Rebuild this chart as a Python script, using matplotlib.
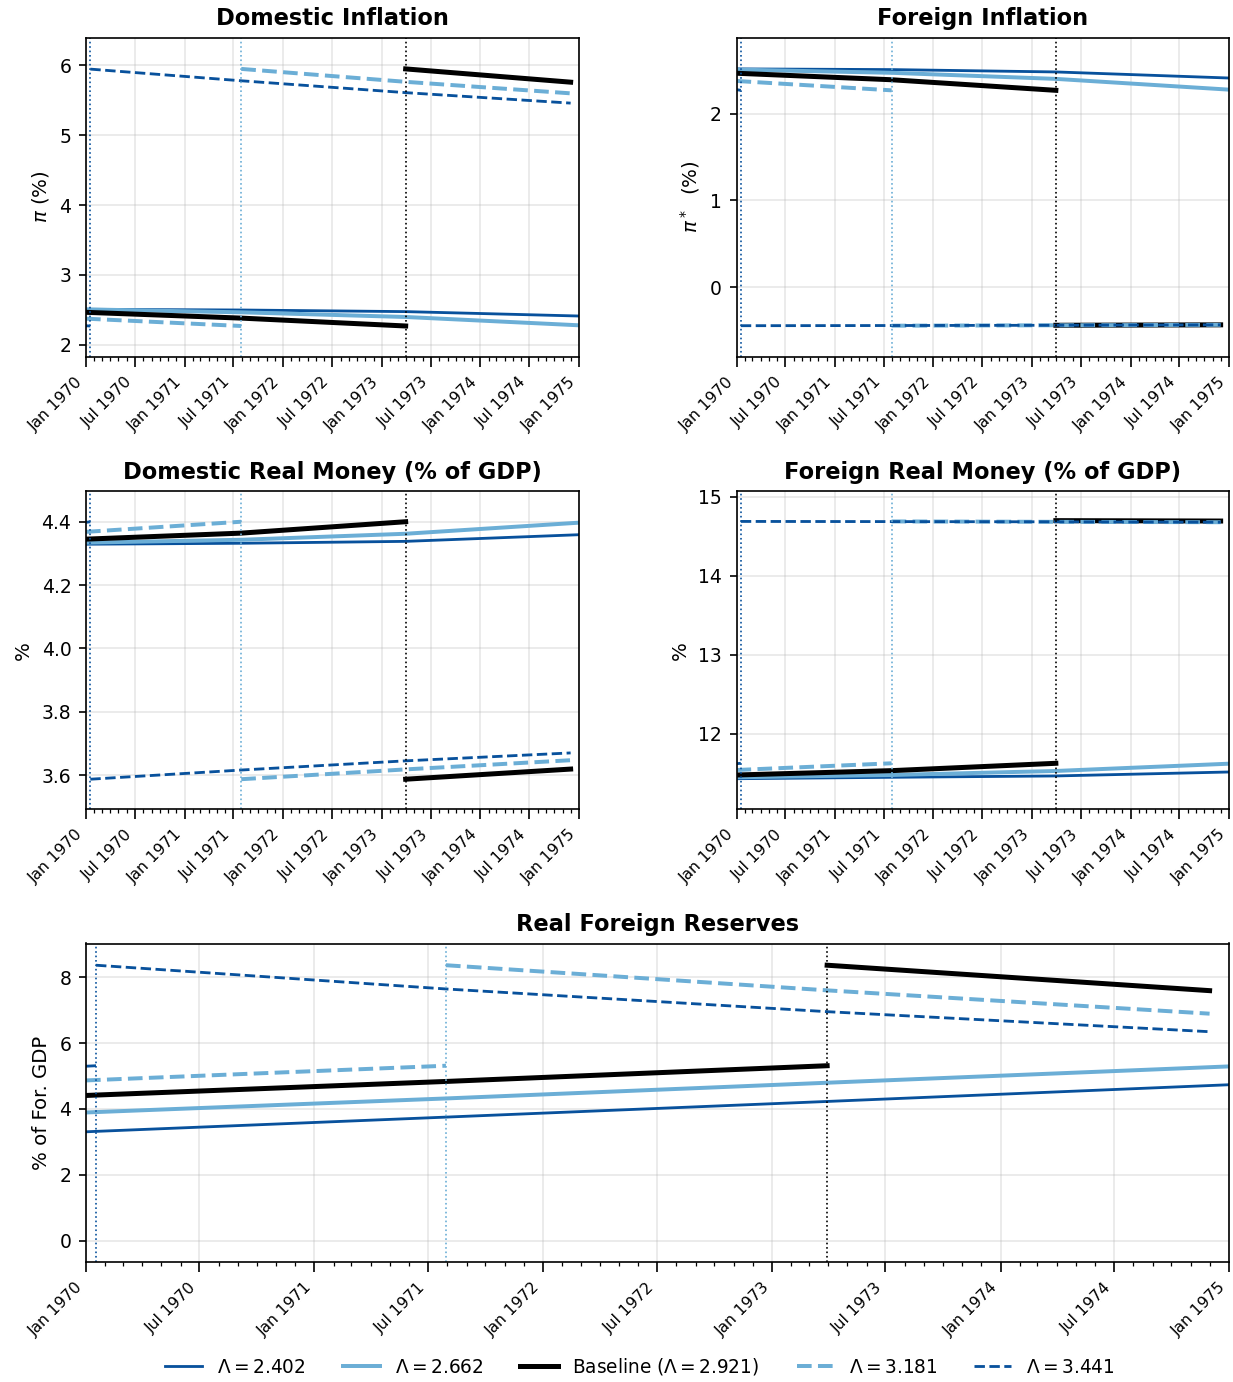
import numpy as np
import pandas as pd
import matplotlib
matplotlib.use("Agg")
import matplotlib.pyplot as plt
import matplotlib.dates as mdates
from matplotlib.ticker import MaxNLocator

# ---- regime dates -------------------------------------------------------
start_date = "1970-01-01"
end_date = "1975-01-01"
path_end = "1974-12-01"
collapse_3441 = "1970-01-17"
collapse_3181 = "1971-07-30"
collapse_base = "1973-03-30"

# knot dates for each segment
full_dates = [start_date, collapse_3181, collapse_base, end_date]
base_pre_dates = [start_date, collapse_3181, collapse_base]
base_post_dates = [collapse_base, path_end]
l3181_pre_dates = [start_date, collapse_3181]
l3181_post_dates = [collapse_3181, collapse_base, path_end]
l3441_pre_dates = [start_date, collapse_3441]
l3441_post_dates = [collapse_3441, collapse_3181, collapse_base, path_end]

series_labels = [r"$\Lambda = 2.402$", r"$\Lambda = 2.662$",
                 r"Baseline ($\Lambda = 2.921$)", r"$\Lambda = 3.181$",
                 r"$\Lambda = 3.441$"]

# ---- Domestic inflation (%) --------------------------------------------
dinf_2402 = [2.506, 2.496, 2.473, 2.410]
dinf_2662 = [2.505, 2.463, 2.396, 2.277]
dinf_base_pre = [2.463, 2.380, 2.267]
dinf_base_post = [5.950, 5.760]
dinf_3181_pre = [2.372, 2.267]
dinf_3181_post = [5.950, 5.765, 5.600]
dinf_3441_pre = [2.270, 2.267]
dinf_3441_post = [5.947, 5.780, 5.610, 5.460]

# ---- Foreign inflation (%) ---------------------------------------------
finf_2402 = [2.515, 2.507, 2.480, 2.410]
finf_2662 = [2.507, 2.470, 2.400, 2.276]
finf_base_pre = [2.465, 2.390, 2.268]
finf_base_post = [-0.440, -0.435]
finf_3181_pre = [2.376, 2.268]
finf_3181_post = [-0.445, -0.440, -0.435]
finf_3441_pre = [2.276, 2.268]
finf_3441_post = [-0.445, -0.443, -0.440, -0.435]

# ---- Domestic real money (% of GDP) ------------------------------------
dmon_2402 = [4.329, 4.332, 4.338, 4.359]
dmon_2662 = [4.334, 4.343, 4.362, 4.397]
dmon_base_pre = [4.345, 4.364, 4.400]
dmon_base_post = [3.587, 3.619]
dmon_3181_pre = [4.368, 4.400]
dmon_3181_post = [3.587, 3.618, 3.647]
dmon_3441_pre = [4.398, 4.400]
dmon_3441_post = [3.587, 3.616, 3.645, 3.670]

# ---- Foreign real money (% of GDP) -------------------------------------
fmon_2402 = [11.430, 11.448, 11.465, 11.515]
fmon_2662 = [11.448, 11.477, 11.528, 11.620]
fmon_base_pre = [11.477, 11.532, 11.625]
fmon_base_post = [14.695, 14.690]
fmon_3181_pre = [11.540, 11.625]
fmon_3181_post = [14.685, 14.680, 14.675]
fmon_3441_pre = [11.620, 11.625]
fmon_3441_post = [14.685, 14.683, 14.680, 14.675]

# ---- Real foreign reserves (% of foreign GDP) --------------------------
res_2402 = [3.307, 3.753, 4.229, 4.737]
res_2662 = [3.894, 4.320, 4.798, 5.294]
res_base_pre = [4.411, 4.837, 5.315]
res_base_post = [8.370, 7.597]
res_3181_pre = [4.868, 5.315]
res_3181_post = [8.370, 7.606, 6.897]
res_3441_pre = [5.300, 5.315]
res_3441_post = [8.370, 7.648, 6.958, 6.349]

# ---- styling --------------------------------------------------------------
dark_blue = "#08519c"
light_blue = "#6baed6"
black = "#000000"

styles = {
    "2402": dict(color=dark_blue, lw=1.35, ls="-"),
    "2662": dict(color=light_blue, lw=1.9, ls="-"),
    "base": dict(color=black, lw=2.4, ls="-"),
    "3181": dict(color=light_blue, lw=1.9, ls="--"),
    "3441": dict(color=dark_blue, lw=1.35, ls="--"),
}

panels = [
    dict(title="Domestic Inflation", ylabel=r"$\pi$ (%)", ylim=(1.83, 6.40),
         data=(dinf_2402, dinf_2662, dinf_base_pre, dinf_base_post,
               dinf_3181_pre, dinf_3181_post, dinf_3441_pre, dinf_3441_post)),
    dict(title="Foreign Inflation", ylabel=r"$\pi^*$  (%)", ylim=(-0.80, 2.877),
         data=(finf_2402, finf_2662, finf_base_pre, finf_base_post,
               finf_3181_pre, finf_3181_post, finf_3441_pre, finf_3441_post)),
    dict(title="Domestic Real Money (% of GDP)", ylabel="%", ylim=(3.492, 4.497),
         data=(dmon_2402, dmon_2662, dmon_base_pre, dmon_base_post,
               dmon_3181_pre, dmon_3181_post, dmon_3441_pre, dmon_3441_post)),
    dict(title="Foreign Real Money (% of GDP)", ylabel="%", ylim=(11.043, 15.07),
         data=(fmon_2402, fmon_2662, fmon_base_pre, fmon_base_post,
               fmon_3181_pre, fmon_3181_post, fmon_3441_pre, fmon_3441_post)),
    dict(title="Real Foreign Reserves", ylabel="% of For. GDP", ylim=(-0.66, 9.03),
         data=(res_2402, res_2662, res_base_pre, res_base_post,
               res_3181_pre, res_3181_post, res_3441_pre, res_3441_post)),
]

W, H = 1233, 1382
DPI = 150
fig = plt.figure(figsize=(W / DPI, H / DPI), dpi=DPI)


def box(left, right, top, bottom):
    return [left / W, 1 - bottom / H, (right - left) / W, (bottom - top) / H]


boxes = [
    box(86, 579, 37.5, 356.5),
    box(736.5, 1229, 37.5, 356.5),
    box(86, 579, 491, 809.3),
    box(736.5, 1229, 491, 809.3),
    box(86, 1229, 943.5, 1262.3),
]

to_dt = lambda seq: pd.to_datetime(seq)

handles = None
for spec, rect in zip(panels, boxes):
    ax = fig.add_axes(rect)
    (v2402, v2662, vb_pre, vb_post, v3181_pre, v3181_post,
     v3441_pre, v3441_post) = spec["data"]

    h1, = ax.plot(to_dt(full_dates), v2402, **styles["2402"])
    h2, = ax.plot(to_dt(full_dates), v2662, **styles["2662"])
    h3, = ax.plot(to_dt(base_pre_dates), vb_pre, **styles["base"])
    ax.plot(to_dt(base_post_dates), vb_post, **styles["base"])
    h4, = ax.plot(to_dt(l3181_pre_dates), v3181_pre, **styles["3181"])
    ax.plot(to_dt(l3181_post_dates), v3181_post, **styles["3181"])
    h5, = ax.plot(to_dt(l3441_pre_dates), v3441_pre, **styles["3441"])
    ax.plot(to_dt(l3441_post_dates), v3441_post, **styles["3441"])
    handles = [h1, h2, h3, h4, h5]

    # collapse dates
    ax.axvline(pd.Timestamp(collapse_3441), color=dark_blue, ls=":", lw=0.8)
    ax.axvline(pd.Timestamp(collapse_3181), color=light_blue, ls=":", lw=0.8)
    ax.axvline(pd.Timestamp(collapse_base), color=black, ls=":", lw=0.8)

    ax.set_xlim(pd.Timestamp(start_date), pd.Timestamp(end_date))
    ax.set_ylim(*spec["ylim"])
    ax.yaxis.set_major_locator(MaxNLocator(nbins=6, steps=[1, 2, 2.5, 5, 10]))
    ax.xaxis.set_major_locator(mdates.MonthLocator(bymonth=[1, 7]))
    ax.xaxis.set_minor_locator(mdates.MonthLocator())
    ax.xaxis.set_major_formatter(mdates.DateFormatter("%b %Y"))
    for lab in ax.get_xticklabels():
        lab.set_rotation(45)
        lab.set_ha("right")
    ax.tick_params(axis="x", which="major", labelsize=7.5, length=5)
    ax.tick_params(axis="x", which="minor", length=2)
    ax.tick_params(axis="y", labelsize=9)
    ax.grid(True, which="major", alpha=0.3)
    ax.set_title(spec["title"], fontsize=10.8, fontweight="bold")
    ax.set_ylabel(spec["ylabel"], fontsize=9.5)

fig.legend(handles, series_labels, loc="center", ncol=5, frameon=False,
           fontsize=8.9, bbox_to_anchor=(640 / W, 1 - 1366.7 / H))

fig.savefig("out.png", dpi=DPI)
